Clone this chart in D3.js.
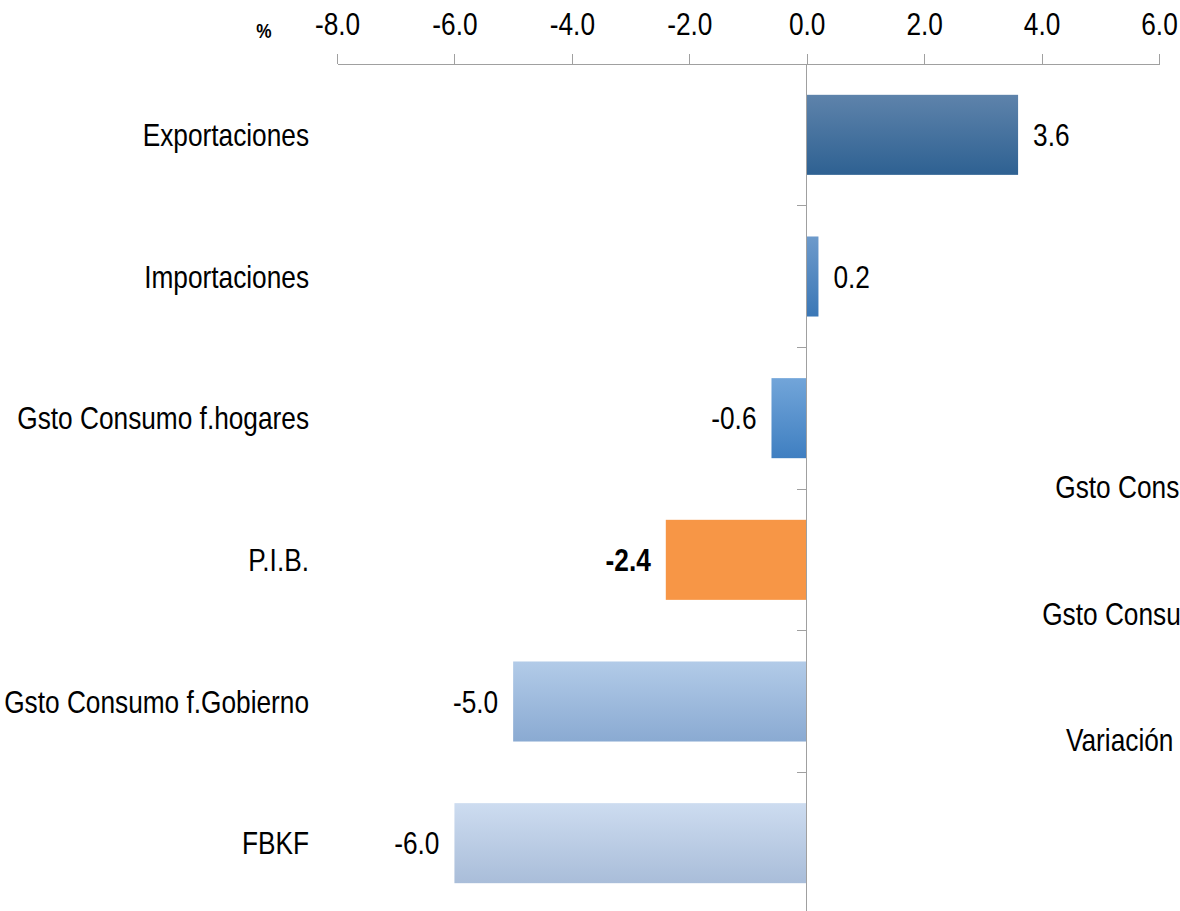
<!DOCTYPE html>
<html lang="es">
<head>
<meta charset="UTF-8">
<title>Variación componentes PIB</title>
<script src="https://cdn.jsdelivr.net/npm/d3@7"></script>
<style>
    body { margin: 0; background: #fff; overflow: hidden; }
    svg { display: block; }
    text { font-family: "Liberation Sans Narrow", "Arial Narrow", "Liberation Sans", Arial, sans-serif; fill: #000; }
    .axis path, .axis line { stroke: #a0a0a0; fill: none; shape-rendering: crispEdges; }
</style>
</head>
<body>
<div id="chart"></div>
<script>
    // data
    var categories = ["Exportaciones", "Importaciones", "Gsto Consumo f.hogares", "P.I.B.", "Gsto Consumo f.Gobierno", "FBKF"];
    var values = [3.6, 0.2, -0.6, -2.4, -5.0, -6.0];
    var xTicks = [-8, -6, -4, -2, 0, 2, 4, 6];
    var unitLabel = "%";
    // labels of the neighbouring chart, cut off at the right edge
    var sideLabels = ["Gsto Consumo f.hogares", "Gsto Consumo f.Gobierno", "Variación de existencias"];

    var colors = [
        ["#5e83ab", "#2e6192"],
        ["#6d9acb", "#3a77b6"],
        ["#72a5d9", "#3f7fc1"],
        ["#f79646", "#f79646"],
        ["#b2cbe8", "#8aaad2"],
        ["#cddcf0", "#a9bdd9"]
    ];

    var W = 1180, H = 911;
    var svg = d3.select("#chart").append("svg")
        .attr("width", W)
        .attr("height", H);

    var x = d3.scaleLinear().domain([-8, 6]).range([337, 1159]);
    var y = d3.scaleBand().domain(categories).range([64, 914])
        .paddingInner(0.435).paddingOuter(0.2175);

    var defs = svg.append("defs");
    categories.forEach(function (c, i) {
        var g = defs.append("linearGradient")
            .attr("id", "grad" + i)
            .attr("x1", 0).attr("y1", 0).attr("x2", 0).attr("y2", 1);
        g.append("stop").attr("offset", "0%").attr("stop-color", colors[i][0]);
        g.append("stop").attr("offset", "100%").attr("stop-color", colors[i][1]);
    });

    var fmt = function (d) { return d.toFixed(1); };

    // top axis
    var xAxis = svg.append("g")
        .attr("class", "axis")
        .attr("transform", "translate(0," + y.range()[0] + ")")
        .call(d3.axisTop(x).tickValues(xTicks).tickSize(10).tickSizeOuter(0).tickPadding(19).tickFormat(fmt));
    xAxis.selectAll("text")
        .style("font-size", "32px")
        .style("font-family", "'Liberation Sans Narrow', 'Arial Narrow', 'Liberation Sans', Arial, sans-serif")
        .attr("fill", "#000");
    xAxis.select(".domain").attr("stroke", "#a0a0a0");

    svg.append("text")
        .attr("x", 264)
        .attr("y", 38)
        .attr("text-anchor", "middle")
        .style("font-size", "21px")
        .style("font-weight", "bold")
        .text(unitLabel);

    // bars
    var data = categories.map(function (c, i) { return { name: c, value: values[i], i: i }; });

    svg.selectAll(".bar")
        .data(data)
        .enter()
        .append("rect")
        .attr("class", "bar")
        .attr("x", function (d) { return x(Math.min(0, d.value)); })
        .attr("y", function (d) { return y(d.name); })
        .attr("width", function (d) { return Math.abs(x(d.value) - x(0)); })
        .attr("height", y.bandwidth())
        .attr("fill", function (d) { return "url(#grad" + d.i + ")"; });

    // vertical axis at zero with ticks between categories
    var vAxis = svg.append("g").attr("class", "axis");
    vAxis.append("line")
        .attr("x1", x(0)).attr("x2", x(0))
        .attr("y1", y.range()[0]).attr("y2", y.range()[1]);
    vAxis.selectAll(".sep")
        .data(categories.slice(0, -1))
        .enter()
        .append("line")
        .attr("x1", x(0) - 10).attr("x2", x(0))
        .attr("y1", function (d) { return y(d) + y.bandwidth() + y.step() * y.paddingInner() / 2; })
        .attr("y2", function (d) { return y(d) + y.bandwidth() + y.step() * y.paddingInner() / 2; });

    // category labels
    svg.selectAll(".cat")
        .data(data)
        .enter()
        .append("text")
        .attr("class", "cat")
        .attr("x", 309)
        .attr("y", function (d) { return y(d.name) + y.bandwidth() / 2; })
        .attr("dy", "0.35em")
        .attr("text-anchor", "end")
        .style("font-size", "32px")
        .text(function (d) { return d.name; });

    // value labels
    svg.selectAll(".val")
        .data(data)
        .enter()
        .append("text")
        .attr("class", "val")
        .attr("x", function (d) { return d.value >= 0 ? x(d.value) + 15 : x(d.value) - 15; })
        .attr("y", function (d) { return y(d.name) + y.bandwidth() / 2; })
        .attr("dy", "0.35em")
        .attr("text-anchor", function (d) { return d.value >= 0 ? "start" : "end"; })
        .style("font-size", "32px")
        .style("font-weight", function (d) { return d.name === "P.I.B." ? "bold" : "normal"; })
        .text(function (d) { return fmt(d.value); });

    // neighbouring chart labels (clipped by the page edge)
    var ySide = d3.scalePoint().domain(sideLabels).range([487, 740]);
    svg.selectAll(".side")
        .data(sideLabels)
        .enter()
        .append("text")
        .attr("class", "side")
        .attr("x", 1347)
        .attr("y", function (d) { return ySide(d); })
        .attr("dy", "0.35em")
        .attr("text-anchor", "end")
        .style("font-size", "32px")
        .text(function (d) { return d; });

    // no narrow font installed: squeeze the regular one to a narrow width
    svg.selectAll("text").each(function () {
        var len = this.getComputedTextLength();
        d3.select(this)
            .attr("textLength", len * 0.82)
            .attr("lengthAdjust", "spacingAndGlyphs");
    });
</script>
</body>
</html>
